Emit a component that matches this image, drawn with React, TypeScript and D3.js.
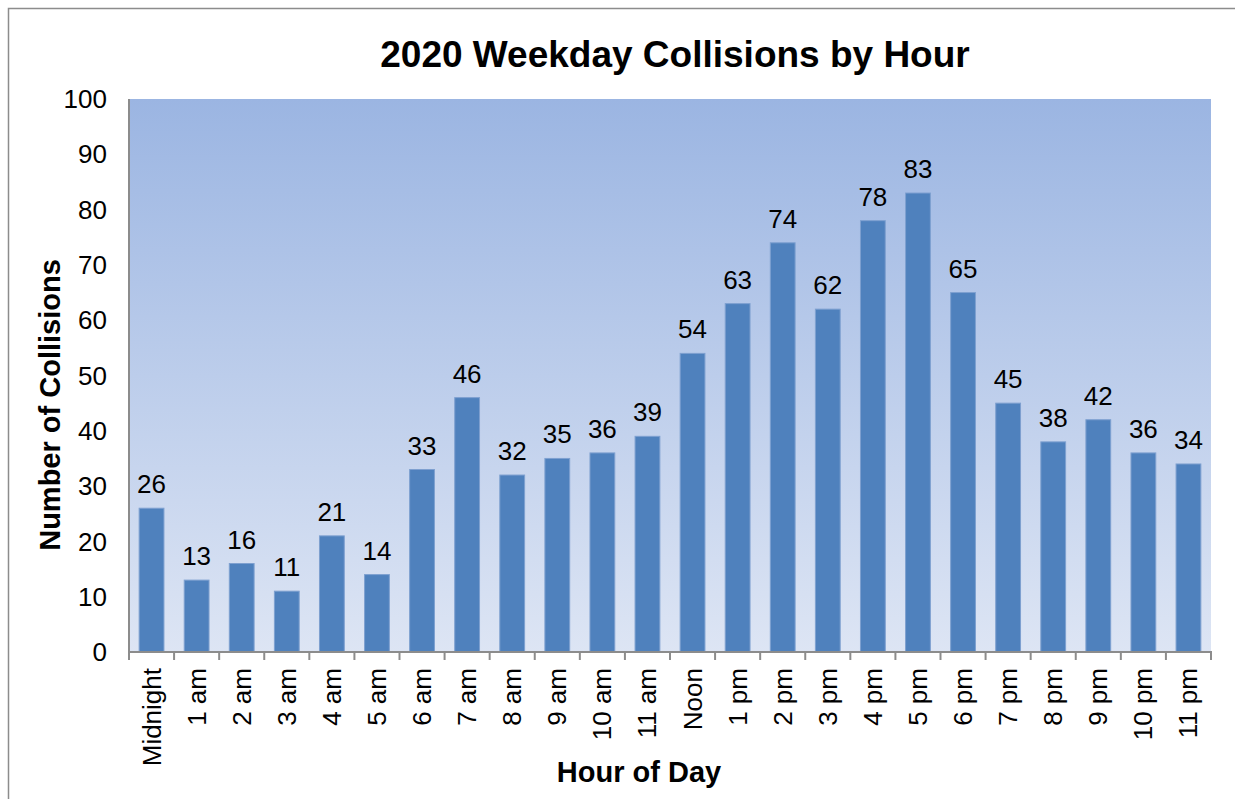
import { useEffect, useRef } from 'react';
import * as d3 from 'd3';

const hours = ['Midnight', '1 am', '2 am', '3 am', '4 am', '5 am', '6 am', '7 am', '8 am', '9 am', '10 am', '11 am',
    'Noon', '1 pm', '2 pm', '3 pm', '4 pm', '5 pm', '6 pm', '7 pm', '8 pm', '9 pm', '10 pm', '11 pm'];
const collisions = [26, 13, 16, 11, 21, 14, 33, 46, 32, 35, 36, 39, 54, 63, 74, 62, 78, 83, 65, 45, 38, 42, 36, 34];
const yTicks = [0, 10, 20, 30, 40, 50, 60, 70, 80, 90, 100];

const FONT = "'Liberation Sans', Arial, sans-serif";

const App = () => {
    const svgRef = useRef<SVGSVGElement>(null);

    useEffect(() => {
        const width = 1235;
        const height = 799;
        const svg = d3.select(svgRef.current);
        svg.selectAll('*').remove();
        svg.attr('width', width).attr('height', height);

        // plot area
        const left = 129, right = 1211, top = 99, bottom = 652;

        const defs = svg.append('defs');
        const grad = defs.append('linearGradient')
            .attr('id', 'bg')
            .attr('x1', 0).attr('y1', 0).attr('x2', 0).attr('y2', 1);
        grad.append('stop').attr('offset', '0%').attr('stop-color', '#9bb5e2');
        grad.append('stop').attr('offset', '100%').attr('stop-color', '#dde5f4');

        // outer chart border
        svg.append('rect')
            .attr('x', 8.5).attr('y', 8.5)
            .attr('width', width + 20).attr('height', height + 20)
            .attr('fill', '#fff')
            .attr('stroke', '#8c8c8c')
            .attr('stroke-width', 1.5);

        const x = d3.scaleBand<string>()
            .domain(hours)
            .range([left, right])
            .paddingInner(0.45)
            .paddingOuter(0.225);

        const y = d3.scaleLinear()
            .domain([0, 100])
            .range([bottom, top]);

        svg.append('rect')
            .attr('x', left).attr('y', top)
            .attr('width', right - left).attr('height', bottom - top)
            .attr('fill', 'url(#bg)');

        // bars
        svg.append('g')
            .selectAll('rect')
            .data(collisions)
            .join('rect')
            .attr('x', (_, i) => x(hours[i])!)
            .attr('y', d => y(d))
            .attr('width', x.bandwidth())
            .attr('height', d => bottom - y(d))
            .attr('fill', '#4f81bd')
            .attr('stroke', '#7ea0d0')
            .attr('stroke-width', 1);

        // value labels
        svg.append('g')
            .selectAll('text')
            .data(collisions)
            .join('text')
            .attr('x', (_, i) => x(hours[i])! + x.bandwidth() / 2)
            .attr('y', d => y(d) - 15)
            .attr('text-anchor', 'middle')
            .attr('font-family', FONT)
            .attr('font-size', 26)
            .attr('fill', '#000')
            .text(d => d);

        // y axis
        const yAxis = svg.append('g');
        yAxis.append('line')
            .attr('x1', left).attr('x2', left)
            .attr('y1', top).attr('y2', bottom)
            .attr('stroke', '#8c8c8c').attr('stroke-width', 2);
        yAxis.selectAll('text')
            .data(yTicks)
            .join('text')
            .attr('x', 107)
            .attr('y', d => y(d))
            .attr('dy', '0.35em')
            .attr('text-anchor', 'end')
            .attr('font-family', FONT)
            .attr('font-size', 26)
            .text(d => d);

        // x axis
        const xAxis = svg.append('g');
        xAxis.append('line')
            .attr('x1', left - 1).attr('x2', right + 1)
            .attr('y1', bottom).attr('y2', bottom)
            .attr('stroke', '#8c8c8c').attr('stroke-width', 2);
        const step = x.step();
        const tickXs = d3.range(hours.length + 1).map(i => left + i * step);
        xAxis.selectAll('line.tick')
            .data(tickXs)
            .join('line')
            .attr('class', 'tick')
            .attr('x1', d => d).attr('x2', d => d)
            .attr('y1', bottom).attr('y2', bottom + 8)
            .attr('stroke', '#8c8c8c').attr('stroke-width', 2);
        xAxis.selectAll('text')
            .data(hours)
            .join('text')
            .attr('transform', d => `translate(${x(d)! + x.bandwidth() / 2 + 9},${bottom + 16}) rotate(-90)`)
            .attr('text-anchor', 'end')
            .attr('font-family', FONT)
            .attr('font-size', 26)
            .text(d => d);

        // title
        svg.append('text')
            .attr('x', 675).attr('y', 67)
            .attr('text-anchor', 'middle')
            .attr('font-family', FONT)
            .attr('font-size', 37)
            .attr('font-weight', 'bold')
            .text('2020 Weekday Collisions by Hour');

        // axis titles
        svg.append('text')
            .attr('transform', `translate(60,405) rotate(-90)`)
            .attr('text-anchor', 'middle')
            .attr('font-family', FONT)
            .attr('font-size', 29)
            .attr('font-weight', 'bold')
            .text('Number of Collisions');

        svg.append('text')
            .attr('x', 639).attr('y', 782)
            .attr('text-anchor', 'middle')
            .attr('font-family', FONT)
            .attr('font-size', 29)
            .attr('font-weight', 'bold')
            .text('Hour of Day');
    }, []);

    return (
        <div style={{ position: 'absolute', left: 0, top: 0, overflow: 'hidden', width: 1235, height: 799 }}>
            <svg ref={svgRef} style={{ display: 'block' }} />
        </div>
    );
};

export default App;
